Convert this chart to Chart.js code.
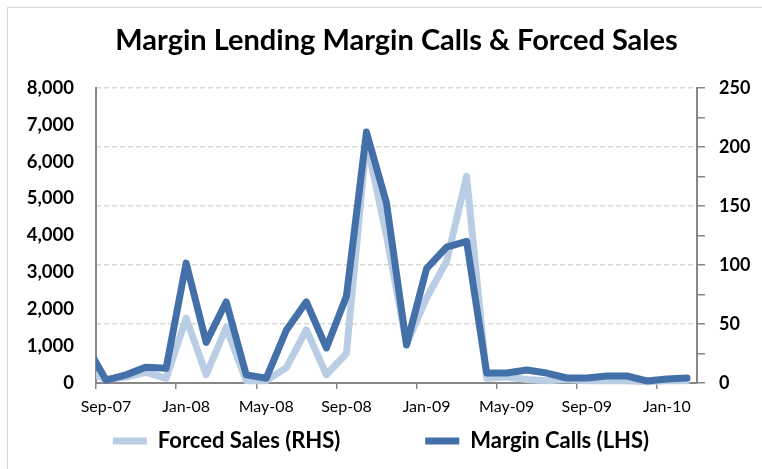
<!DOCTYPE html>
<html>
<head>
<meta charset="utf-8">
<script src="https://cdn.jsdelivr.net/npm/chart.js@4.4.0/dist/chart.umd.min.js"></script>
<style>
  body { margin: 0; background: #fff; }
  #wrap { position: relative; width: 762px; height: 469px; overflow: hidden; }
  #frame { position: absolute; left: 7px; top: 7px; width: 800px; height: 500px; border: 1px solid #d6d6d6; }
  canvas { position: absolute; left: 0; top: 0; }
</style>
</head>
<body>
<div id="wrap">
  <div id="frame"></div>
  <canvas id="marginChart" width="762" height="469"></canvas>
</div>
<script>
// monthly, Aug-07 sits just left of the axis (clipped like in the original)
const months = ['Aug-07', 'Sep-07', 'Oct-07', 'Nov-07', 'Dec-07',
    'Jan-08', 'Feb-08', 'Mar-08', 'Apr-08', 'May-08', 'Jun-08', 'Jul-08', 'Aug-08', 'Sep-08', 'Oct-08', 'Nov-08', 'Dec-08',
    'Jan-09', 'Feb-09', 'Mar-09', 'Apr-09', 'May-09', 'Jun-09', 'Jul-09', 'Aug-09', 'Sep-09', 'Oct-09', 'Nov-09', 'Dec-09',
    'Jan-10', 'Feb-10'];
const marginCalls = [1030, 80, 220, 430, 400,
    3250, 1100, 2200, 220, 130, 1430, 2200, 950, 2350, 6800, 4880, 1030,
    3100, 3680, 3840, 270, 270, 350, 270, 135, 135, 190, 190, 55,
    110, 135];
const forcedSales = [10, 3, 5, 9, 4,
    55, 7, 47, 2, 2, 13, 45, 7, 25, 205, 125, 33,
    72, 103, 175, 4, 5, 3, 2, 3, 2, 2, 2, 1,
    2, 2];
const firstMonth = 'Sep-07';
const lhsMax = 8000, lhsStep = 1000;
const rhsMax = 250, rhsStep = 25, rhsLabelStep = 50;

const darkBlue = '#4470a9';
const lightBlue = '#b9cde5';
const axisGrey = '#878787';

Chart.defaults.font.family = 'Lato';
Chart.defaults.color = '#000';

const ctx = document.getElementById('marginChart').getContext('2d');
const marginChart = new Chart(ctx, {
    type: 'line',
    data: {
        labels: months,
        datasets: [{
            label: 'Margin Calls (LHS)',
            data: marginCalls,
            yAxisID: 'y',
            borderColor: darkBlue,
            backgroundColor: darkBlue,
            borderWidth: 7,
            pointRadius: 0,
            tension: 0,
            borderJoinStyle: 'round',
            borderCapStyle: 'round',
            clip: {left: 0, right: 6, top: 6, bottom: 6}
        }, {
            // trailing spaces only widen the gap between the two legend entries
            label: 'Forced Sales (RHS)' + '\u00a0'.repeat(14),
            data: forcedSales,
            yAxisID: 'y1',
            borderColor: lightBlue,
            backgroundColor: lightBlue,
            borderWidth: 7,
            pointRadius: 0,
            tension: 0,
            borderJoinStyle: 'round',
            borderCapStyle: 'round',
            clip: {left: 0, right: 6, top: 6, bottom: 6}
        }]
    },
    options: {
        responsive: false,
        animation: false,
        layout: { padding: { bottom: 7 } },
        plugins: {
            title: {
                display: true,
                text: 'Margin Lending Margin Calls & Forced Sales',
                fullSize: false,
                font: { size: 29, weight: 'bold' },
                color: '#000',
                padding: { top: 23, bottom: 30 }
            },
            legend: {
                position: 'bottom',
                labels: {
                    usePointStyle: true,
                    pointStyle: 'line',
                    pointStyleWidth: 34,
                    padding: 10,
                    font: { size: 22, weight: 'bold' },
                    sort: (a, b) => b.datasetIndex - a.datasetIndex
                }
            },
            tooltip: { enabled: false }
        },
        scales: {
            x: {
                type: 'category',
                min: firstMonth,
                offset: true,
                afterFit: (scale) => { scale.height = 37; },
                grid: {
                    offset: true,
                    drawOnChartArea: false,
                    tickLength: 6,
                    tickColor: (c) => c.index % 4 === 0 ? axisGrey : 'rgba(0,0,0,0)',
                    lineWidth: 1.5
                },
                border: { color: axisGrey, width: 2 },
                ticks: {
                    autoSkip: false,
                    maxRotation: 0,
                    padding: 8,
                    font: { size: 16 },
                    callback: function (value, index) {
                        return index % 4 === 0 ? this.getLabelForValue(value) : '';
                    }
                }
            },
            y: {
                position: 'left',
                min: 0,
                max: lhsMax,
                afterFit: (scale) => { scale.width = 96; },
                grid: { drawOnChartArea: false, drawTicks: false },
                border: { color: axisGrey, width: 2 },
                ticks: {
                    stepSize: lhsStep,
                    padding: 22,
                    font: { size: 18.5, weight: 'bold' },
                    callback: (v) => v.toLocaleString('en-US')
                }
            },
            y1: {
                position: 'right',
                min: 0,
                max: rhsMax,
                afterFit: (scale) => { scale.width = 65; },
                grid: {
                    drawOnChartArea: true,
                    color: (c) => (c.tick && c.tick.value > 0 && c.tick.value % rhsLabelStep === 0) ? '#d9d9d9' : 'rgba(0,0,0,0)',
                    tickColor: axisGrey,
                    tickLength: 8,
                    lineWidth: 1.5
                },
                border: { color: axisGrey, width: 2, dash: [5, 3] },
                ticks: {
                    stepSize: rhsStep,
                    padding: 14,
                    font: { size: 18, weight: 'bold' },
                    callback: (v) => v % rhsLabelStep === 0 ? v : ''
                }
            }
        }
    }
});
</script>
</body>
</html>
